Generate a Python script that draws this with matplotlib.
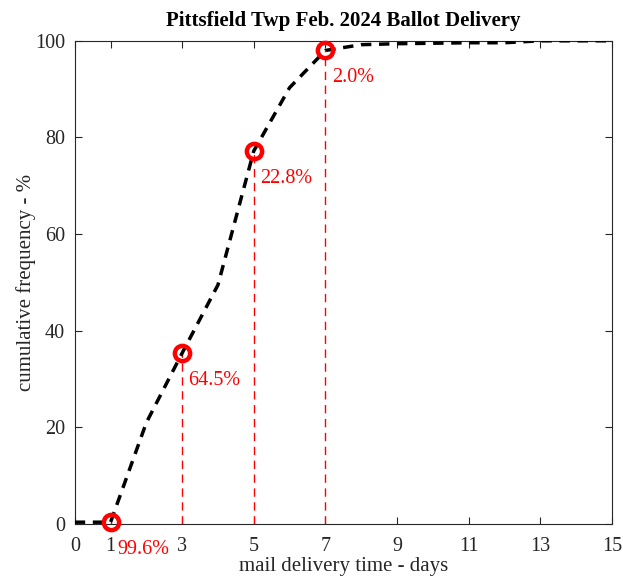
import matplotlib.pyplot as plt

plt.rcParams['font.family'] = ['Liberation Serif', 'DejaVu Serif']

# cumulative delivery curve
days = [0, 1, 2, 3, 4, 5, 6, 7, 8, 9, 10, 11, 12, 13, 14, 15]
cum_pct = [0.4, 0.4, 21.0, 35.4, 49.5, 77.2, 90.3, 98.0, 99.2, 99.4, 99.5, 99.6, 99.6, 100, 100, 100]

# highlighted days and the share still undelivered
mark_days = [1, 3, 5, 7]
mark_pct = [0.4, 35.4, 77.2, 98.0]
mark_labels = ['99.6%', '64.5%', '22.8%', '2.0%']

xticks = [0, 1, 3, 5, 7, 9, 11, 13, 15]
yticks = [0, 20, 40, 60, 80, 100]

fig = plt.figure(figsize=(6.23, 5.83), dpi=100)
ax = fig.add_axes([0.120, 0.101, 0.862, 0.829])

ax.plot(days, cum_pct, 'k--', lw=2.5, dashes=(3, 2.2), zorder=3)

red = '#ff0000'
for d, p, lab in zip(mark_days, mark_pct, mark_labels):
    ax.plot([d, d], [0, p], color=red, lw=1, dashes=(6, 4), zorder=2)
    ax.text(d + 0.18, p - 5.6, lab, color=red, fontsize=14.5, va='center', ha='left',
            clip_on=False)
ax.plot(mark_days, mark_pct, 'o', mfc='none', mec=red, ms=11, mew=3.2, zorder=4,
        clip_on=False)

ax.set_xlim(0, 15)
ax.set_ylim(0, 100)
ax.set_xticks(xticks)
ax.set_yticks(yticks)
ax.tick_params(direction='in', top=True, right=True, labelsize=14.5,
               colors='#262626', length=5)
ax.tick_params(axis='x', pad=9)
ax.tick_params(axis='y', pad=7)
for s in ax.spines.values():
    s.set_color('#262626')
    s.set_linewidth(0.8)

ax.set_xlabel('mail delivery time - days', fontsize=15, color='#262626', labelpad=1)
ax.set_ylabel('cumulative frequency - %', fontsize=15, color='#262626', labelpad=-1)
ax.set_title('Pittsfield Twp Feb. 2024 Ballot Delivery', fontsize=15,
             fontweight='bold', pad=11)

fig.savefig('out.png', dpi=100)
